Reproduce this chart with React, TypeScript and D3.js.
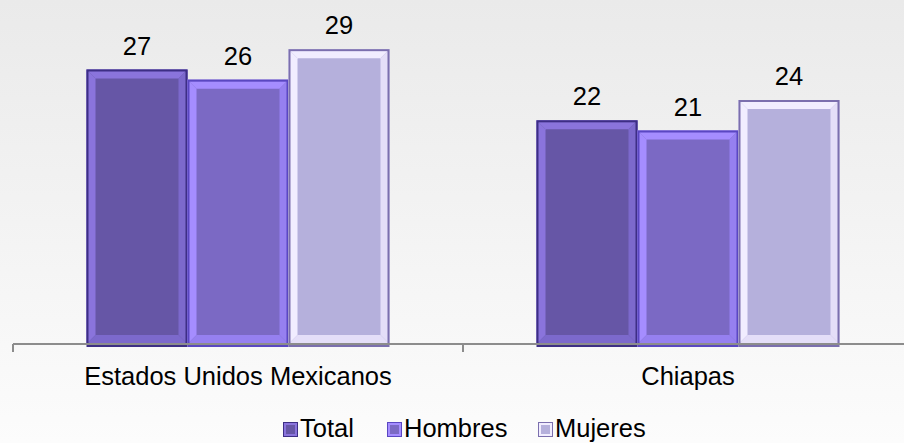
import React, { useEffect, useRef } from 'react'
import * as d3 from 'd3'

// data
const categories = ['Estados Unidos Mexicanos', 'Chiapas']
const seriesNames = ['Total', 'Hombres', 'Mujeres']
const totalValues = [27, 22]
const hombresValues = [26, 21]
const mujeresValues = [29, 24]

const W = 904
const H = 443

// face / bevel / border colours per series
const faceColors = ['#6656a6', '#7b69c4', '#b5b0dc']
const lightColors = ['#8a74dc', '#a58dff', '#f1edff']
const shadeColors = ['#7c69cc', '#9680f0', '#e4def8']
const borderColors = ['#3d2e85', '#5a47c2', '#7b6fae']

const font = '"Liberation Sans", Arial, sans-serif'
const fontSize = 25.5

export default function App() {
    const ref = useRef<SVGSVGElement>(null)

    useEffect(() => {
        const svg = d3.select(ref.current)
        svg.selectAll('*').remove()

        const seriesValues = [totalValues, hombresValues, mujeresValues]

        //background gradient
        const defs = svg.append('defs')
        const grad = defs.append('linearGradient')
            .attr('id', 'bg')
            .attr('x1', 0).attr('y1', 0)
            .attr('x2', 0).attr('y2', 1)
        grad.append('stop').attr('offset', '0%').attr('stop-color', '#eaeaea')
        grad.append('stop').attr('offset', '100%').attr('stop-color', '#fcfcfc')
        svg.append('rect')
            .attr('width', W).attr('height', H)
            .attr('fill', 'url(#bg)')

        const baseY = 344

        const x0 = d3.scaleBand<string>()
            .domain(categories)
            .range([13, 913])
            .padding(0)

        const x1 = d3.scaleBand<string>()
            .domain(seriesNames)
            .range([73.5, x0.bandwidth() - 73.5])
            .padding(0)

        const y = d3.scaleLinear()
            .domain([0, 30])
            .range([baseY, 39])

        const g = svg.append('g')

        //bars with bevel
        const bev = 9
        categories.forEach((c, ci) => {
            seriesNames.forEach((s, si) => {
                const v = seriesValues[si][ci]
                const bx = (x0(c) as number) + (x1(s) as number)
                const bw = x1.bandwidth()
                const by = y(v)
                const bh = baseY - by
                const bar = g.append('g')

                bar.append('rect')
                    .attr('x', bx).attr('y', by)
                    .attr('width', bw).attr('height', bh)
                    .attr('fill', faceColors[si])

                const l = bx, r = bx + bw, t = by, b = baseY
                //top
                bar.append('polygon')
                    .attr('points', `${l},${t} ${r},${t} ${r - bev},${t + bev} ${l + bev},${t + bev}`)
                    .attr('fill', lightColors[si])
                //left
                bar.append('polygon')
                    .attr('points', `${l},${t} ${l + bev},${t + bev} ${l + bev},${b - bev} ${l},${b}`)
                    .attr('fill', lightColors[si])
                //right
                bar.append('polygon')
                    .attr('points', `${r},${t} ${r},${b} ${r - bev},${b - bev} ${r - bev},${t + bev}`)
                    .attr('fill', shadeColors[si])
                //bottom
                bar.append('polygon')
                    .attr('points', `${l},${b} ${r},${b} ${r - bev},${b - bev} ${l + bev},${b - bev}`)
                    .attr('fill', shadeColors[si])

                bar.append('rect')
                    .attr('x', bx + 1).attr('y', by + 1)
                    .attr('width', bw - 2).attr('height', bh + 1)
                    .attr('fill', 'none')
                    .attr('stroke', borderColors[si])
                    .attr('stroke-width', 2)

                //value label
                g.append('text')
                    .attr('x', bx + bw / 2)
                    .attr('y', by - 15)
                    .attr('text-anchor', 'middle')
                    .attr('font-family', font)
                    .attr('font-size', fontSize)
                    .attr('fill', '#000')
                    .text(v)
            })
        })

        //category axis
        const axis = svg.append('g')
        axis.append('line')
            .attr('x1', 13).attr('x2', W)
            .attr('y1', baseY).attr('y2', baseY)
            .attr('stroke', '#8c8c8c')
            .attr('stroke-width', 2)
        categories.forEach(c => {
            const tx = x0(c) as number
            axis.append('line')
                .attr('x1', tx).attr('x2', tx)
                .attr('y1', baseY).attr('y2', baseY + 8)
                .attr('stroke', '#8c8c8c')
                .attr('stroke-width', 2)
            axis.append('text')
                .attr('x', tx + x0.bandwidth() / 2)
                .attr('y', 385)
                .attr('text-anchor', 'middle')
                .attr('font-family', font)
                .attr('font-size', fontSize)
                .attr('fill', '#000')
                .text(c)
        })

        //legend
        const legendX = [283, 387, 538]
        const lg = svg.append('g')
        seriesNames.forEach((s, i) => {
            const lx = legendX[i]
            const ly = 422
            const sz = 15
            const lb = 3
            lg.append('rect')
                .attr('x', lx).attr('y', ly)
                .attr('width', sz).attr('height', sz)
                .attr('fill', lightColors[i])
            lg.append('rect')
                .attr('x', lx + lb).attr('y', ly + lb)
                .attr('width', sz - 2 * lb).attr('height', sz - 2 * lb)
                .attr('fill', faceColors[i])
            lg.append('rect')
                .attr('x', lx + 0.5).attr('y', ly + 0.5)
                .attr('width', sz - 1).attr('height', sz - 1)
                .attr('fill', 'none')
                .attr('stroke', borderColors[i])
                .attr('stroke-width', 1)
            lg.append('text')
                .attr('x', lx + sz + 2)
                .attr('y', 437)
                .attr('font-family', font)
                .attr('font-size', fontSize)
                .attr('fill', '#000')
                .text(s)
        })

        return () => {
            svg.selectAll('*').remove()
        }
    }, [])

    return (
        <svg
            ref={ref}
            width={W}
            height={H}
            style={{ position: 'absolute', left: 0, top: 0, display: 'block' }}
        />
    )
}
